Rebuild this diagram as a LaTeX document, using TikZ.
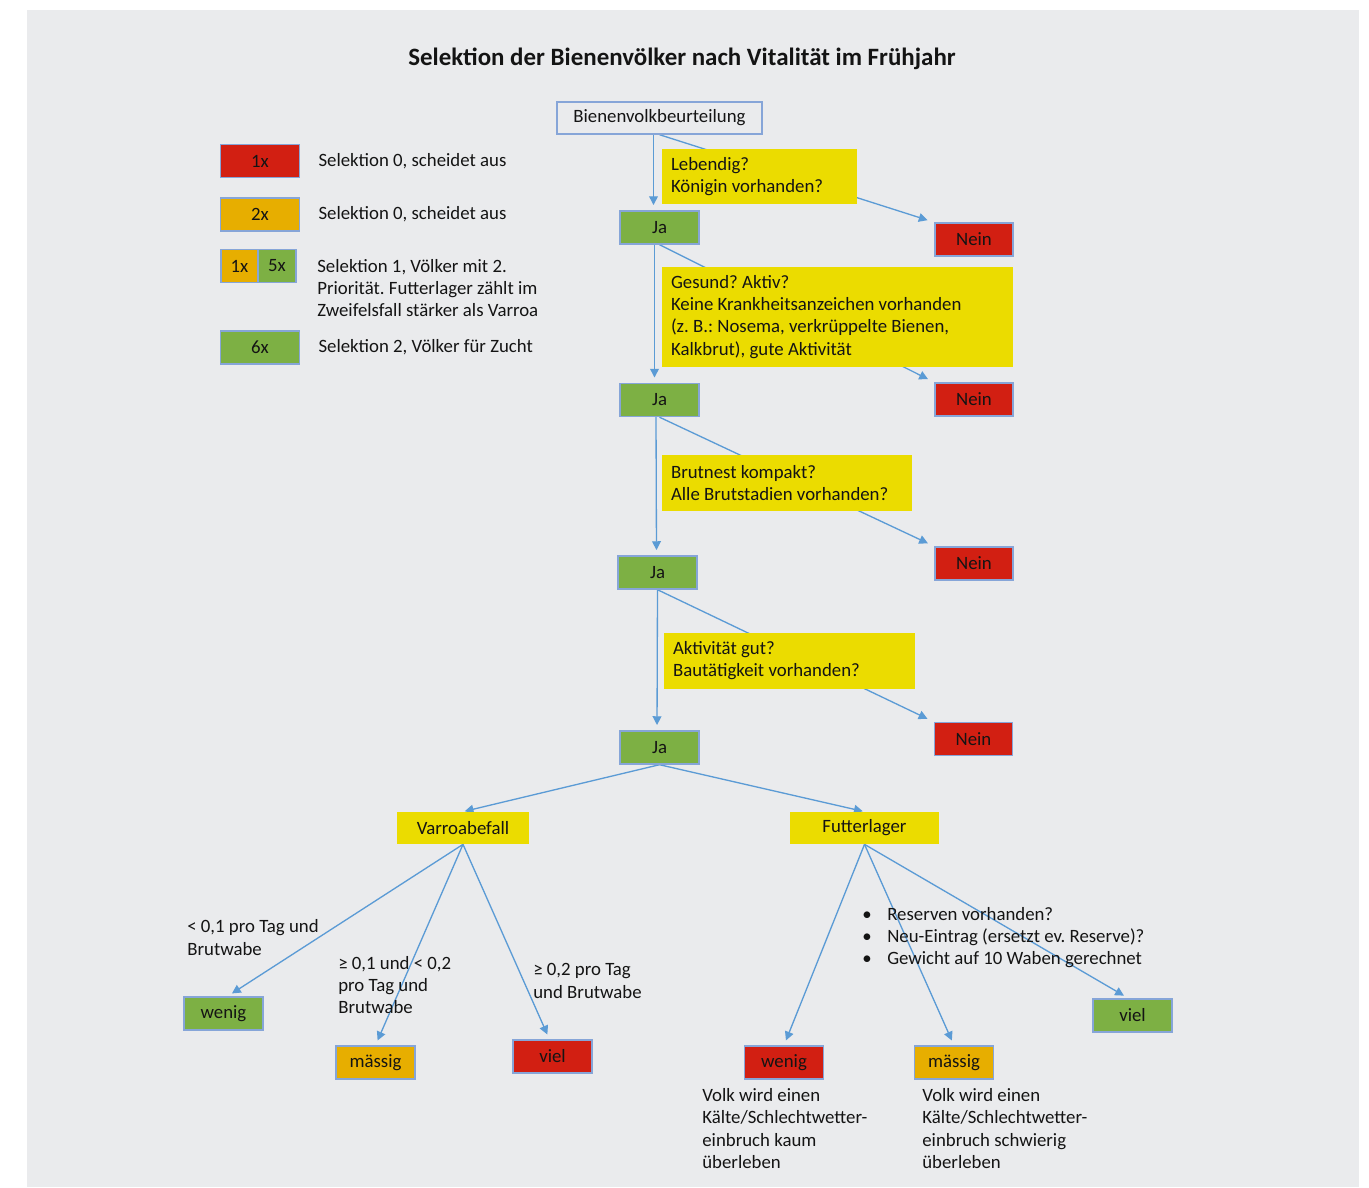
\documentclass[tikz,border=0pt]{standalone}
\usepackage{fontspec}
\setmainfont{Carlito}
\usetikzlibrary{positioning,arrows.meta,backgrounds}
\frenchspacing

\definecolor{grundgrau}{HTML}{EAEBED}
\definecolor{neinrot}{HTML}{D21F12}
\definecolor{mittelorange}{HTML}{E7AE00}
\definecolor{jagruen}{HTML}{7DB044}
\definecolor{fragegelb}{HTML}{EBDC00}
\definecolor{randblau}{HTML}{86A5D8}
\definecolor{pfeilblau}{HTML}{5B9BD5}
\definecolor{schrift}{HTML}{141414}

\tikzset{
    kasten/.style={draw=randblau, line width=0.8pt, minimum height=0.66cm, minimum width=1.58cm, inner sep=0pt},
    ja/.style={kasten, fill=jagruen},
    nein/.style={kasten, fill=neinrot},
    mittel/.style={kasten, fill=mittelorange},
    frage/.style={fill=fragegelb, align=flush left, inner xsep=0.18cm, inner ysep=0pt},
    thema/.style={fill=fragegelb, minimum height=0.64cm, inner sep=0pt},
    notiz/.style={align=left, inner sep=0pt, anchor=west},
    pfeil/.style={draw=pfeilblau, line width=0.75pt, -{Triangle[length=5pt,width=5pt]}, shorten >=3pt}
}

\begin{document}
\begin{tikzpicture}[x=0.02cm, y=-0.02cm, font=\fontsize{10.7pt}{12.6pt}\selectfont, text=schrift]
    		% Hintergrund
    		\begin{pgfonlayer}{background}
    			\fill[grundgrau] (27,10) rectangle (1359,1187);
    		\end{pgfonlayer}
    		\useasboundingbox (0,0) rectangle (1369,1187);

    		\node[font=\fontsize{14.2pt}{17pt}\selectfont\bfseries] (titel) at (682,59) {Selektion der Bienenvölker nach Vitalität im Frühjahr};

    		% Legende
    		\node[nein] (leg1) at (260,161) {1x};
    		\node[notiz, right=0.36cm of leg1] (legtext1) {Selektion 0, scheidet aus};

    		\node[mittel] (leg2) at (260,214.5) {2x};
    		\node[notiz, right=0.36cm of leg2] (legtext2) {Selektion 0, scheidet aus};

    		\node[mittel, minimum width=0.74cm] (leg3a) at (239.5,266) {1x};
    		\node[ja, minimum width=0.76cm] (leg3b) at (277,266) {5x};
    		\node[notiz] (legtext3) at (317,288) {Selektion 1, Völker mit 2.\\Priorität. Futterlager zählt im\\Zweifelsfall stärker als Varroa};

    		\node[ja] (leg4) at (260,347.5) {6x};
    		\node[notiz, right=0.36cm of leg4] (legtext4) {Selektion 2, Völker für Zucht};

    		% Hauptkette
    		\node[kasten, minimum width=4.1cm, minimum height=0.64cm] (beurteilung) at (659.5,118) {Bienenvolkbeurteilung};

    		\node[frage, text width=3.54cm, minimum height=1.1cm] (frage1) at (759.5,176.5) {Lebendig?\\Königin vorhanden?};
    		\node[ja] (ja1) at (659.5,227.5) {Ja};
    		\node[nein, minimum width=1.56cm] (nein1) at (974,239.5) {Nein};

    		\node[frage, text width=6.66cm, minimum height=2cm] (frage2) at (837.5,317) {Gesund? Aktiv?\\Keine Krankheitsanzeichen vorhanden\\(z. B.: Nosema, verkrüppelte Bienen,\\Kalkbrut), gute Aktivität};
    		\node[ja] (ja2) at (659.5,400) {Ja};
    		\node[nein, minimum width=1.56cm] (nein2) at (974,399.5) {Nein};

    		\node[frage, text width=4.64cm, minimum height=1.12cm] (frage3) at (787,483) {Brutnest kompakt?\\Alle Brutstadien vorhanden?};
    		\node[ja] (ja3) at (657.5,572.5) {Ja};
    		\node[nein, minimum width=1.56cm] (nein3) at (974,563.5) {Nein};

    		\node[frage, text width=4.66cm, minimum height=1.12cm] (frage4) at (789.5,661) {Aktivität gut?\\Bautätigkeit vorhanden?};
    		\node[ja] (ja4) at (659.5,747.5) {Ja};
    		\node[nein, minimum width=1.56cm] (nein4) at (973.5,739) {Nein};

    		% Varroabefall
    		\node[thema, minimum width=2.64cm] (varroa) at (463,828) {Varroabefall};
    		\node[ja] (vwenig) at (223.5,1013.5) {wenig};
    		\node[mittel] (vmaessig) at (375.5,1062.5) {mässig};
    		\node[nein] (vviel) at (552.5,1056.5) {viel};
    		\node[notiz] (vtext1) at (187,937.5) {< 0,1 pro Tag und\\Brutwabe};
    		\node[notiz] (vtext2) at (338,985) {≥ 0,1 und < 0,2\\pro Tag und\\Brutwabe};
    		\node[notiz] (vtext3) at (533,981) {≥ 0,2 pro Tag\\und Brutwabe};

    		% Futterlager
    		\node[thema, minimum width=2.98cm] (futter) at (864.5,828) {Futterlager};
    		\node[nein] (fwenig) at (784,1062.5) {wenig};
    		\node[mittel] (fmaessig) at (954,1062.5) {mässig};
    		\node[ja] (fviel) at (1132.5,1015.5) {viel};
    		\node[notiz] (fliste) at (862,937.5) {\makebox[0.5cm][l]{•}Reserven vorhanden?\\\makebox[0.5cm][l]{•}Neu-Eintrag (ersetzt ev. Reserve)?\\\makebox[0.5cm][l]{•}Gewicht auf 10 Waben gerechnet};
    		\node[notiz] (ftext1) at (702,1128.5) {Volk wird einen\\Kälte/Schlechtwetter-\\einbruch kaum\\überleben};
    		\node[notiz] (ftext2) at (922,1128.5) {Volk wird einen\\Kälte/Schlechtwetter-\\einbruch schwierig\\überleben};

    		% Pfeile
    		\begin{pgfonlayer}{background}
    			\draw[pfeil] ([xshift=-0.12cm]beurteilung.south) -- ([xshift=-0.12cm]ja1.north);
    			\draw[pfeil, shorten >=4pt] (beurteilung.south) -- (nein1.north west);
    			\draw[pfeil] ([xshift=-0.1cm]ja1.south) -- ([xshift=-0.1cm]ja2.north);
    			\draw[pfeil, shorten >=4pt] (ja1.south) -- (nein2.north west);
    			\draw[pfeil] ([xshift=-0.07cm]ja2.south) -- ([xshift=-0.02cm]ja3.north);
    			\draw[pfeil, shorten >=4pt] (ja2.south) -- (nein3.north west);
    			\draw[pfeil] (ja3.south) -- ([xshift=-0.05cm]ja4.north);
    			\draw[pfeil, shorten >=4pt] (ja3.south) -- (nein4.north west);
    			\draw[pfeil, shorten >=1pt] (ja4.south) -- (varroa.north);
    			\draw[pfeil, shorten >=1pt] (ja4.south) -- (futter.north);

    			\draw[pfeil] (varroa.south) -- ([xshift=0.08cm]vwenig.north);
    			\draw[pfeil] (varroa.south) -- (vmaessig.north);
    			\draw[pfeil] (varroa.south) -- ([xshift=-0.06cm]vviel.north);

    			\draw[pfeil] (futter.south) -- (fwenig.north);
    			\draw[pfeil] (futter.south) -- (fmaessig.north);
    			\draw[pfeil] (futter.south) -- ([xshift=-0.08cm]fviel.north);
    		\end{pgfonlayer}
    	\end{tikzpicture}
\end{document}
